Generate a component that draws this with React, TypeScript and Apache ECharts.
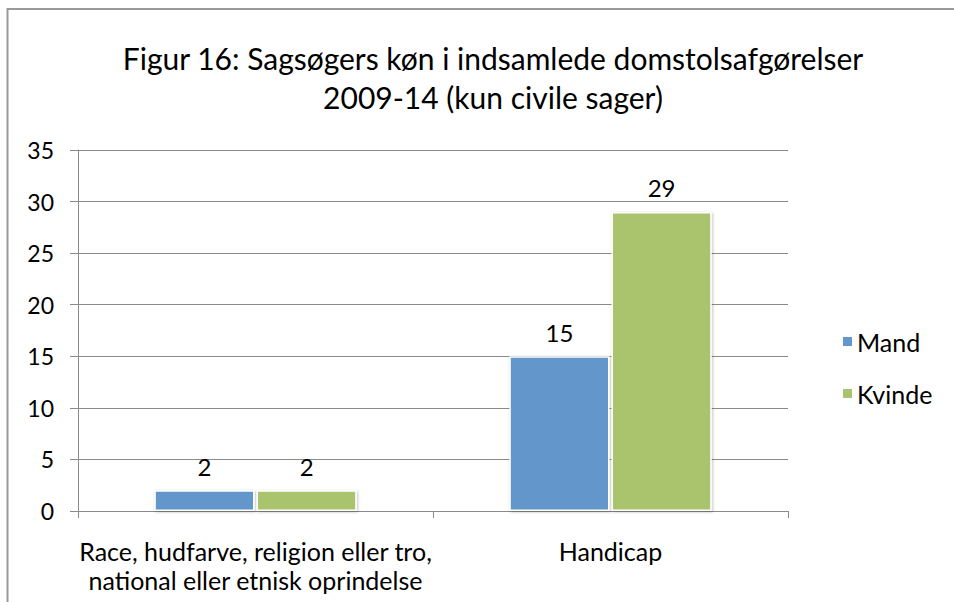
import React, { useEffect, useRef } from "react";
import * as echarts from "echarts";

const categories = [
  "Race, hudfarve, religion eller tro,\nnational eller etnisk oprindelse",
  "Handicap",
];
const mandValues = [2, 15];
const kvindeValues = [2, 29];
const seriesNames = ["Mand", "Kvinde"];
const titleText = "Figur 16: Sagsøgers køn i indsamlede domstolsafgørelser\n2009-14 (kun civile sager)";

const FONT = "Lato, 'Open Sans', sans-serif";

export default function App() {
  const ref = useRef<HTMLDivElement>(null);
  useEffect(() => {
    if (!ref.current) return;
    const chart = echarts.init(ref.current, null, { renderer: "svg" });
    const barStyle = (color: string) => ({
      color,
      borderColor: "#ffffff",
      borderWidth: 1.5,
      shadowColor: "rgba(0,0,0,0.25)",
      shadowBlur: 3,
      shadowOffsetX: 1,
      shadowOffsetY: 1,
    });
    const label = {
      show: true,
      position: "top" as const,
      distance: 12,
      color: "#000",
      fontSize: 24,
      fontFamily: FONT,
    };
    chart.setOption({
      animation: false,
      backgroundColor: "#ffffff",
      textStyle: { fontFamily: FONT },
      graphic: [
        {
          type: "polyline",
          shape: { points: [[7.5, 602], [7.5, 9], [954, 9]] },
          style: { stroke: "#999999", lineWidth: 2, fill: "none" },
          silent: true,
        },
      ],
      title: {
        text: titleText,
        left: 488,
        textAlign: "center",
        top: 33,
        textStyle: {
          fontFamily: FONT,
          fontSize: 30,
          fontWeight: "normal",
          color: "#000",
          lineHeight: 39,
        },
      },
      legend: {
        orient: "vertical",
        left: 836,
        top: 324,
        itemWidth: 11,
        itemHeight: 11,
        itemGap: 27,
        icon: "rect",
        textStyle: { fontSize: 25, color: "#000", fontFamily: FONT, padding: [0, 0, 0, -1] },
        data: seriesNames,
      },
      grid: { left: 78, right: 166, top: 150, bottom: 91, containLabel: false },
      xAxis: {
        type: "category",
        data: categories,
        axisLine: { lineStyle: { color: "#8a8a8a", width: 1 } },
        axisTick: { show: true, length: 7, lineStyle: { color: "#8a8a8a" } },
        axisLabel: {
          fontSize: 25,
          color: "#000",
          fontFamily: FONT,
          lineHeight: 29,
          margin: 25,
          interval: 0,
        },
      },
      yAxis: {
        type: "value",
        min: 0,
        max: 35,
        interval: 5,
        axisLine: { show: true, lineStyle: { color: "#8a8a8a", width: 1 } },
        axisTick: { show: true, length: 8, lineStyle: { color: "#8a8a8a" } },
        axisLabel: { fontSize: 23, color: "#000", fontFamily: FONT, margin: 24 },
        splitLine: { show: true, lineStyle: { color: "#8a8a8a", width: 1 } },
      },
      series: [
        {
          name: seriesNames[0],
          type: "bar",
          data: mandValues,
          barGap: "2%",
          barCategoryGap: "43%",
          itemStyle: barStyle("#6397CB"),
          label,
        },
        {
          name: seriesNames[1],
          type: "bar",
          data: kvindeValues,
          barGap: "2%",
          barCategoryGap: "43%",
          itemStyle: barStyle("#AAC46D"),
          label,
        },
      ],
    });
    return () => chart.dispose();
  }, []);
  return (
    <div
      ref={ref}
      style={{ position: "fixed", left: 0, top: 0, width: 954, height: 602, background: "#fff" }}
    />
  );
}
